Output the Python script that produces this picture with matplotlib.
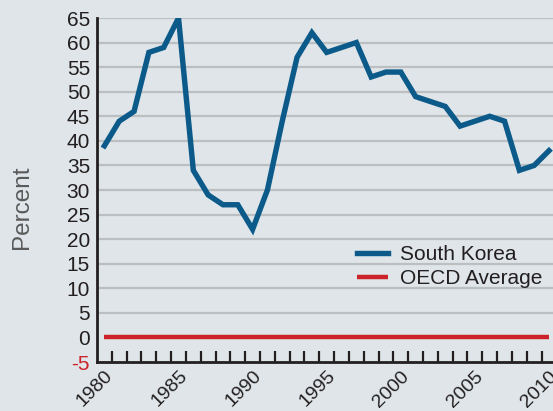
import matplotlib
matplotlib.use("Agg")
import matplotlib.pyplot as plt
import numpy as np

years = list(range(1980, 2011))
south_korea = [39, 44, 46, 58, 59, 65, 34, 29, 27, 27, 22, 30, 44, 57, 62, 58, 59, 60,
               53, 54, 54, 49, 48, 47, 43, 44, 45, 44, 34, 35, 38]
oecd_average = [0] * len(years)
yticks = list(range(-5, 70, 5))
xticks = [1980, 1985, 1990, 1995, 2000, 2005, 2010]

plt.rcParams['font.family'] = ['Liberation Sans', 'DejaVu Sans']
bg = '#dfe5e8'
fig = plt.figure(figsize=(5.53, 4.11), dpi=100, facecolor=bg)
ax = fig.add_axes([97/553, 1 - 362/411, 1 - 97/553, (362 - 18)/411])
ax.set_facecolor(bg)

for y in yticks:
    if y > 0:
        ax.axhline(y, color='#bcbfc1', lw=1.6, zorder=1)

ax.plot(years, oecd_average, color='#cc2229', lw=3.2, label='OECD Average', zorder=3,
        solid_capstyle='butt')
ax.plot(years, south_korea, color='#0b5a8a', lw=3.9, label='South Korea', zorder=4,
        solid_joinstyle='miter')

ax.set_xlim(1979.5, 2010.27)
ax.set_ylim(-5, 65)
ax.set_yticks(yticks)
ax.set_yticklabels([str(v) for v in yticks], fontsize=15, color='#231f20')
ax.get_yticklabels()[0].set_color('#cc2229')
ax.tick_params(axis='y', length=0, pad=5)
ax.set_xticks(np.array(years[:-1]) + 0.5, minor=True)
ax.set_xticks(xticks)
ax.set_xticklabels([str(v) for v in xticks], fontsize=14, rotation=45,
                   ha='right', va='top', rotation_mode='anchor', color='#231f20')
ax.tick_params(axis='x', which='minor', direction='in', length=8, width=1.6,
               color='#231f20')
ax.tick_params(axis='x', which='major', length=0, pad=4)

for s in ['top', 'right']:
    ax.spines[s].set_visible(False)
for s in ['left', 'bottom']:
    ax.spines[s].set_color('#231f20')
    ax.spines[s].set_linewidth(2)

ax.set_ylabel('Percent', fontsize=17.5, color='#5a5a5a')
ax.yaxis.set_label_coords(-0.14, 0.449)

handles, labels = ax.get_legend_handles_labels()
leg = ax.legend(handles[::-1], labels[::-1], loc='upper left',
                bbox_to_anchor=(0.57, 0.34), frameon=False, fontsize=15,
                handlelength=1.5, handletextpad=0.58, labelspacing=0.25,
                borderaxespad=0, borderpad=0)
for t in leg.get_texts():
    t.set_color('#231f20')

fig.savefig('out.png', dpi=100, facecolor=bg)
